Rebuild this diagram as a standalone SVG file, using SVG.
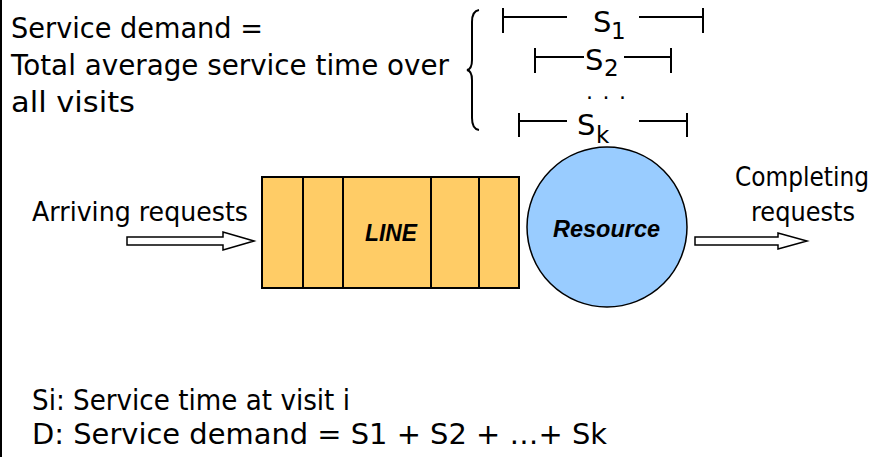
<svg xmlns="http://www.w3.org/2000/svg" width="884" height="457" viewBox="0 0 884 457">
<style>
.t{font-family:"DejaVu Sans","Liberation Sans",sans-serif;fill:#000}
.b{font-family:"Liberation Sans",Arial,sans-serif;font-weight:bold;font-style:italic;fill:#000}
.ln{stroke:#000;stroke-width:2;fill:none}
.arr{fill:#fff;stroke:#000;stroke-width:1.5}
</style>
<rect width="884" height="457" fill="#fff"/>
<line x1="1" y1="0" x2="1" y2="457" stroke="#000" stroke-width="2"/>
<g id="definition">
<text class="t" font-size="29" x="11" y="38" textLength="252" lengthAdjust="spacingAndGlyphs">Service demand =</text>
<text class="t" font-size="29" x="11" y="75" textLength="438" lengthAdjust="spacingAndGlyphs">Total average service time over</text>
<text class="t" font-size="29" x="11" y="112" textLength="124" lengthAdjust="spacingAndGlyphs">all visits</text>
</g>
<g id="brace">
<path class="ln" d="M479,10 Q472,11 472,22 L472,60 Q472,69 467,70 Q472,71 472,80 L472,118 Q472,129 479,130"/>
</g>
<g id="s-intervals">
<path class="ln" d="M503,8 V33 M503,17 H567 M639,17 H703 M703,8 V33"/>
<text class="t" font-size="29" x="593" y="32">S</text><text class="t" font-size="23" x="611" y="39">1</text>
<path class="ln" d="M535,48 V73 M535,57 H584 M624,57 H671 M671,48 V73"/>
<text class="t" font-size="29" x="585" y="70">S</text><text class="t" font-size="23" x="604" y="76">2</text>
<text class="t" font-size="22" x="586" y="99" textLength="40" lengthAdjust="spacing">. . .</text>
<path class="ln" d="M519,113 V137 M519,121 H567 M639,121 H687 M687,113 V137"/>
</g>
<g id="queue">
<rect x="262" y="177" width="257" height="111" fill="#FFCC66" stroke="#000" stroke-width="2"/>
<path class="ln" d="M303,177 V288 M343,177 V288 M431,177 V288 M479,177 V288"/>
<text class="b" font-size="23" x="365" y="241" textLength="52" lengthAdjust="spacingAndGlyphs">LINE</text>
</g>
<g id="resource">
<circle cx="607" cy="227" r="80" fill="#99CCFF" stroke="#000" stroke-width="1.5"/>
<text class="b" font-size="23" x="553" y="237" textLength="107" lengthAdjust="spacingAndGlyphs">Resource</text>
</g>
<g id="sk-label">
<text class="t" font-size="29" x="577" y="135">S</text><text class="t" font-size="23" x="596" y="143">k</text>
</g>
<g id="connectors">
<polygon class="arr" points="127,237 223,237 223,232 254,241 223,250 223,245 127,245"/>
<polygon class="arr" points="695,237 778,237 778,233 807,241 778,249 778,245 695,245"/>
</g>
<g id="labels">
<text class="t" font-size="27" x="32" y="221" textLength="216" lengthAdjust="spacingAndGlyphs">Arriving requests</text>
<text class="t" font-size="26" x="735" y="186" textLength="134" lengthAdjust="spacingAndGlyphs">Completing</text>
<text class="t" font-size="27" x="751" y="221" textLength="104" lengthAdjust="spacingAndGlyphs">requests</text>
</g>
<g id="notes">
<text class="t" font-size="29" x="32" y="410" textLength="318" lengthAdjust="spacingAndGlyphs">Si: Service time at visit i</text>
<text class="t" font-size="29" x="32" y="444" textLength="575" lengthAdjust="spacingAndGlyphs">D: Service demand = S1 + S2 + …+ Sk</text>
</g>
</svg>
